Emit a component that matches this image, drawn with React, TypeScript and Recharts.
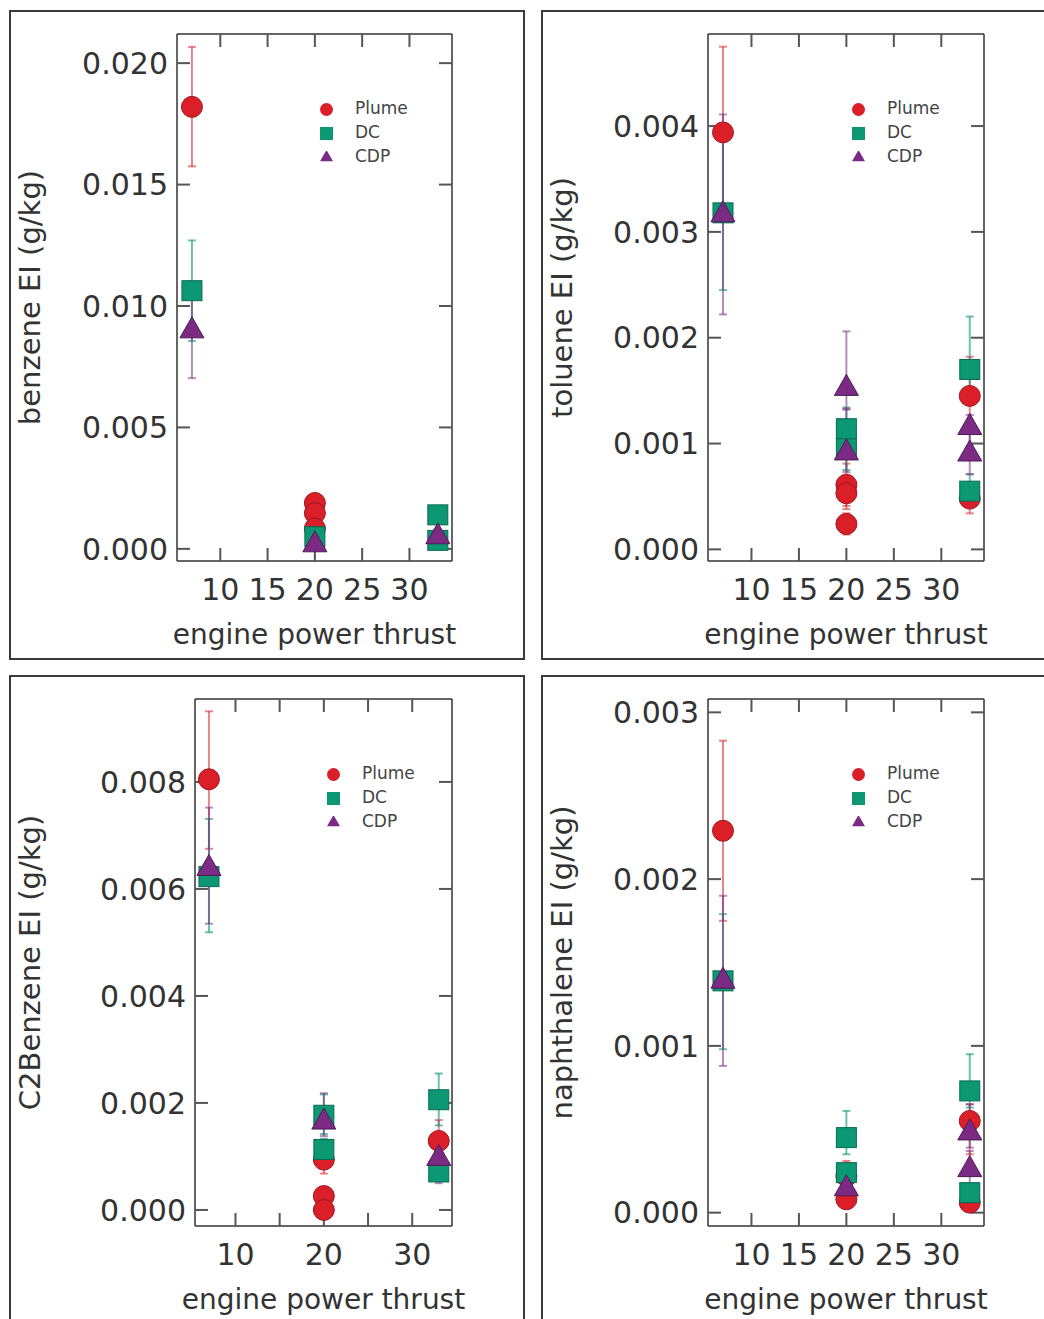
import { ScatterChart, Scatter, XAxis, YAxis, ErrorBar, Legend } from "recharts";

type Pt = { x: number; y: number; err: [number, number] };

const xTicks = [10, 15, 20, 25, 30];
const xDomain: [number, number] = [5.42, 34.5];

const benzeneTicks = [0, 0.005, 0.01, 0.015, 0.02];
const benzenePlume: Pt[] = [
  { x: 7, y: 0.0182, err: [0.00245, 0.00247] },
  { x: 20, y: 0.00189, err: [0.0002, 0.0002] },
  { x: 20, y: 0.00147, err: [0.0002, 0.0002] },
  { x: 20, y: 0.00084, err: [0.0002, 0.0002] },
];
const benzeneDC: Pt[] = [
  { x: 7, y: 0.01063, err: [0.00207, 0.00207] },
  { x: 20, y: 0.0005, err: [0.0001, 0.0001] },
  { x: 33, y: 0.0014, err: [0.0002, 0.0002] },
  { x: 33, y: 0.00035, err: [0.0001, 0.0001] },
];
const benzeneCDP: Pt[] = [
  { x: 7, y: 0.00906, err: [0.00203, 0.0019] },
  { x: 20, y: 0.00025, err: [0.0001, 0.0001] },
  { x: 33, y: 0.00058, err: [0.0001, 0.0001] },
];

const tolueneTicks = [0, 0.001, 0.002, 0.003, 0.004];
const toluenePlume: Pt[] = [
  { x: 7, y: 0.00394, err: [0.0008, 0.00081] },
  { x: 20, y: 0.00061, err: [0.0002, 0.0002] },
  { x: 20, y: 0.00053, err: [0.00015, 0.00015] },
  { x: 20, y: 0.00024, err: [0.0001, 0.0001] },
  { x: 33, y: 0.00145, err: [0.0003, 0.00037] },
  { x: 33, y: 0.00048, err: [0.00014, 0.0001] },
];
const tolueneDC: Pt[] = [
  { x: 7, y: 0.00318, err: [0.00073, 0.0007] },
  { x: 20, y: 0.00114, err: [0.0002, 0.0002] },
  { x: 20, y: 0.00095, err: [0.0002, 0.0002] },
  { x: 33, y: 0.0017, err: [0.0002, 0.0005] },
  { x: 33, y: 0.00055, err: [0.0001, 0.00016] },
];
const tolueneCDP: Pt[] = [
  { x: 7, y: 0.00318, err: [0.00096, 0.00093] },
  { x: 20, y: 0.00154, err: [0.00022, 0.00052] },
  { x: 20, y: 0.00093, err: [0.0002, 0.0004] },
  { x: 33, y: 0.00117, err: [0.0002, 0.0001] },
  { x: 33, y: 0.00092, err: [0.00021, 0.0002] },
];

const c2benzeneTicks = [0, 0.002, 0.004, 0.006, 0.008];
const c2benzenePlume: Pt[] = [
  { x: 7, y: 0.00805, err: [0.0013, 0.00127] },
  { x: 20, y: 0.00094, err: [0.00026, 0.0002] },
  { x: 20, y: 0.00026, err: [0.0001, 0.0001] },
  { x: 20, y: 0.0, err: [0, 0] },
  { x: 33, y: 0.00129, err: [0.0002, 0.00039] },
];
const c2benzeneDC: Pt[] = [
  { x: 7, y: 0.00623, err: [0.00104, 0.00108] },
  { x: 20, y: 0.00177, err: [0.00035, 0.00039] },
  { x: 20, y: 0.00113, err: [0.0002, 0.0002] },
  { x: 33, y: 0.00206, err: [0.00048, 0.00049] },
  { x: 33, y: 0.00071, err: [0.0001, 0.0001] },
];
const c2benzeneCDP: Pt[] = [
  { x: 7, y: 0.00642, err: [0.00107, 0.0011] },
  { x: 20, y: 0.00168, err: [0.0003, 0.0005] },
  { x: 33, y: 0.001, err: [0.0005, 0.0002] },
];

const naphTicks = [0, 0.001, 0.002, 0.003];
const naphPlume: Pt[] = [
  { x: 7, y: 0.00229, err: [0.00054, 0.00054] },
  { x: 20, y: 0.00022, err: [0.0001, 0.00009] },
  { x: 20, y: 0.00008, err: [0.00005, 0.00005] },
  { x: 33, y: 0.00055, err: [0.0002, 0.0001] },
  { x: 33, y: 0.00006, err: [0.00003, 0.00003] },
];
const naphDC: Pt[] = [
  { x: 7, y: 0.00139, err: [0.00041, 0.0004] },
  { x: 20, y: 0.00045, err: [0.0001, 0.00016] },
  { x: 20, y: 0.00024, err: [0.00005, 0.00005] },
  { x: 33, y: 0.00073, err: [0.0001, 0.00022] },
  { x: 33, y: 0.00012, err: [0.00003, 0.00003] },
];
const naphCDP: Pt[] = [
  { x: 7, y: 0.0014, err: [0.00052, 0.0005] },
  { x: 20, y: 0.000155, err: [0.00005, 0.00005] },
  { x: 33, y: 0.00049, err: [0.0001, 0.00016] },
  { x: 33, y: 0.00027, err: [0.0001, 0.0001] },
];

const W = 516;
const H = 650;
const INK = "#333";
const RED = "#da1f28";
const GREEN = "#0c9873";
const PURPLE = "#7c2b85";
const legendOrder: Record<string, number> = { Plume: 0, DC: 1, CDP: 2 };

const RedDot = (p: any) => (
  <circle cx={p.cx} cy={p.cy} r={10.5} fill={RED} stroke="#9a1820" strokeWidth={1} />
);
const GreenSquare = (p: any) => (
  <rect x={p.cx - 10} y={p.cy - 10} width={20} height={20} fill={GREEN} stroke="#0a6a50" strokeWidth={1} />
);
const PurpleTriangle = (p: any) => (
  <polygon
    points={`${p.cx},${p.cy - 12} ${p.cx - 12},${p.cy + 9} ${p.cx + 12},${p.cy + 9}`}
    fill={PURPLE}
    stroke="#4e1a55"
    strokeWidth={1}
  />
);

function Panel({
  left,
  top,
  plotLeft,
  legendLeft,
  yLabel,
  yTicks,
  yDomain,
  sparseX,
  plume,
  dc,
  cdp,
}: {
  left: number;
  top: number;
  plotLeft: number;
  legendLeft: number;
  yLabel: string;
  yTicks: number[];
  yDomain: [number, number];
  sparseX?: boolean;
  plume: Pt[];
  dc: Pt[];
  cdp: Pt[];
}) {
  const axisLine = { stroke: INK, strokeWidth: 1.5 };
  const tickLine = { stroke: "#555", strokeWidth: 2 };
  const tickFont = { fontSize: 30, fill: INK };
  const xFmt = (v: number) => (sparseX && v % 10 !== 0 ? "" : String(v));
  return (
    <div style={{ position: "absolute", left, top, width: W, height: H }}>
      <div
        style={{
          position: "absolute",
          left: 0,
          top: 0,
          width: W,
          height: H,
          border: "2px solid #3a3a3a",
          boxSizing: "border-box",
        }}
      />
      <ScatterChart width={W} height={H} margin={{ top: 23, right: 72, bottom: 0, left: 0 }}>
        <XAxis
          type="number"
          dataKey="x"
          domain={xDomain}
          allowDataOverflow
          ticks={xTicks}
          interval={0}
          tickFormatter={xFmt}
          height={99}
          tickSize={-13}
          tickMargin={31}
          axisLine={axisLine}
          tickLine={tickLine}
          tick={tickFont}
          label={{ value: "engine power thrust", position: "insideBottom", offset: 16, fontSize: 28, fill: INK }}
        />
        <XAxis
          xAxisId="top"
          orientation="top"
          type="number"
          dataKey="x"
          domain={xDomain}
          allowDataOverflow
          ticks={xTicks}
          interval={0}
          tickFormatter={() => ""}
          height={1}
          tickSize={-13}
          axisLine={axisLine}
          tickLine={tickLine}
        />
        <YAxis
          type="number"
          dataKey="y"
          domain={yDomain}
          allowDataOverflow
          ticks={yTicks}
          interval={0}
          tickFormatter={(v: number) => v.toFixed(3)}
          width={plotLeft}
          tickSize={-13}
          tickMargin={22}
          axisLine={axisLine}
          tickLine={tickLine}
          tick={tickFont}
          label={{
            value: yLabel,
            angle: -90,
            position: "insideLeft",
            offset: 21,
            fontSize: 29,
            fill: INK,
            style: { textAnchor: "middle" },
          }}
        />
        <YAxis
          yAxisId="right"
          orientation="right"
          type="number"
          dataKey="y"
          domain={yDomain}
          allowDataOverflow
          ticks={yTicks}
          interval={0}
          tickFormatter={() => ""}
          width={1}
          tickSize={-13}
          axisLine={axisLine}
          tickLine={tickLine}
        />
        <Legend
          layout="vertical"
          align="center"
          verticalAlign="middle"
          iconSize={13}
          itemSorter={(item: any) => legendOrder[item.value] ?? 0}
          wrapperStyle={{ left: legendLeft, top: 86, width: 120, fontSize: 17, lineHeight: "24px" }}
          formatter={(value: string) => (
            <span style={{ color: "#444", marginLeft: 18 }}>{value}</span>
          )}
        />
        <Scatter name="Plume" data={plume} fill={RED} legendType="circle" shape={RedDot} isAnimationActive={false}>
          <ErrorBar dataKey="err" direction="y" width={4} stroke={RED} strokeOpacity={0.55} strokeWidth={2} />
        </Scatter>
        <Scatter name="DC" data={dc} fill={GREEN} legendType="square" shape={GreenSquare} isAnimationActive={false}>
          <ErrorBar dataKey="err" direction="y" width={4} stroke={GREEN} strokeOpacity={0.6} strokeWidth={2} />
        </Scatter>
        <Scatter name="CDP" data={cdp} fill={PURPLE} legendType="triangle" shape={PurpleTriangle} isAnimationActive={false}>
          <ErrorBar dataKey="err" direction="y" width={4} stroke={PURPLE} strokeOpacity={0.55} strokeWidth={2} />
        </Scatter>
      </ScatterChart>
    </div>
  );
}

export default function App() {
  return (
    <div
      style={{
        position: "absolute",
        left: 0,
        top: 0,
        width: 1044,
        height: 1319,
        overflow: "hidden",
        background: "#fff",
        fontFamily: "'DejaVu Sans', sans-serif",
      }}
    >
      <Panel left={9} top={10} plotLeft={168} legendLeft={311} yLabel="benzene EI (g/kg)" yTicks={benzeneTicks}
        yDomain={[-0.0005, 0.0212]} plume={benzenePlume} dc={benzeneDC} cdp={benzeneCDP} />
      <Panel left={541} top={10} plotLeft={167} legendLeft={311} yLabel="toluene EI (g/kg)" yTicks={tolueneTicks}
        yDomain={[-0.00011, 0.00487]} plume={toluenePlume} dc={tolueneDC} cdp={tolueneCDP} />
      <Panel left={9} top={675} plotLeft={186} legendLeft={318} yLabel="C2Benzene EI (g/kg)" yTicks={c2benzeneTicks}
        yDomain={[-0.0003, 0.00955]} sparseX plume={c2benzenePlume} dc={c2benzeneDC} cdp={c2benzeneCDP} />
      <Panel left={541} top={675} plotLeft={167} legendLeft={311} yLabel="naphthalene EI (g/kg)" yTicks={naphTicks}
        yDomain={[-0.00008, 0.00308]} plume={naphPlume} dc={naphDC} cdp={naphCDP} />
    </div>
  );
}
